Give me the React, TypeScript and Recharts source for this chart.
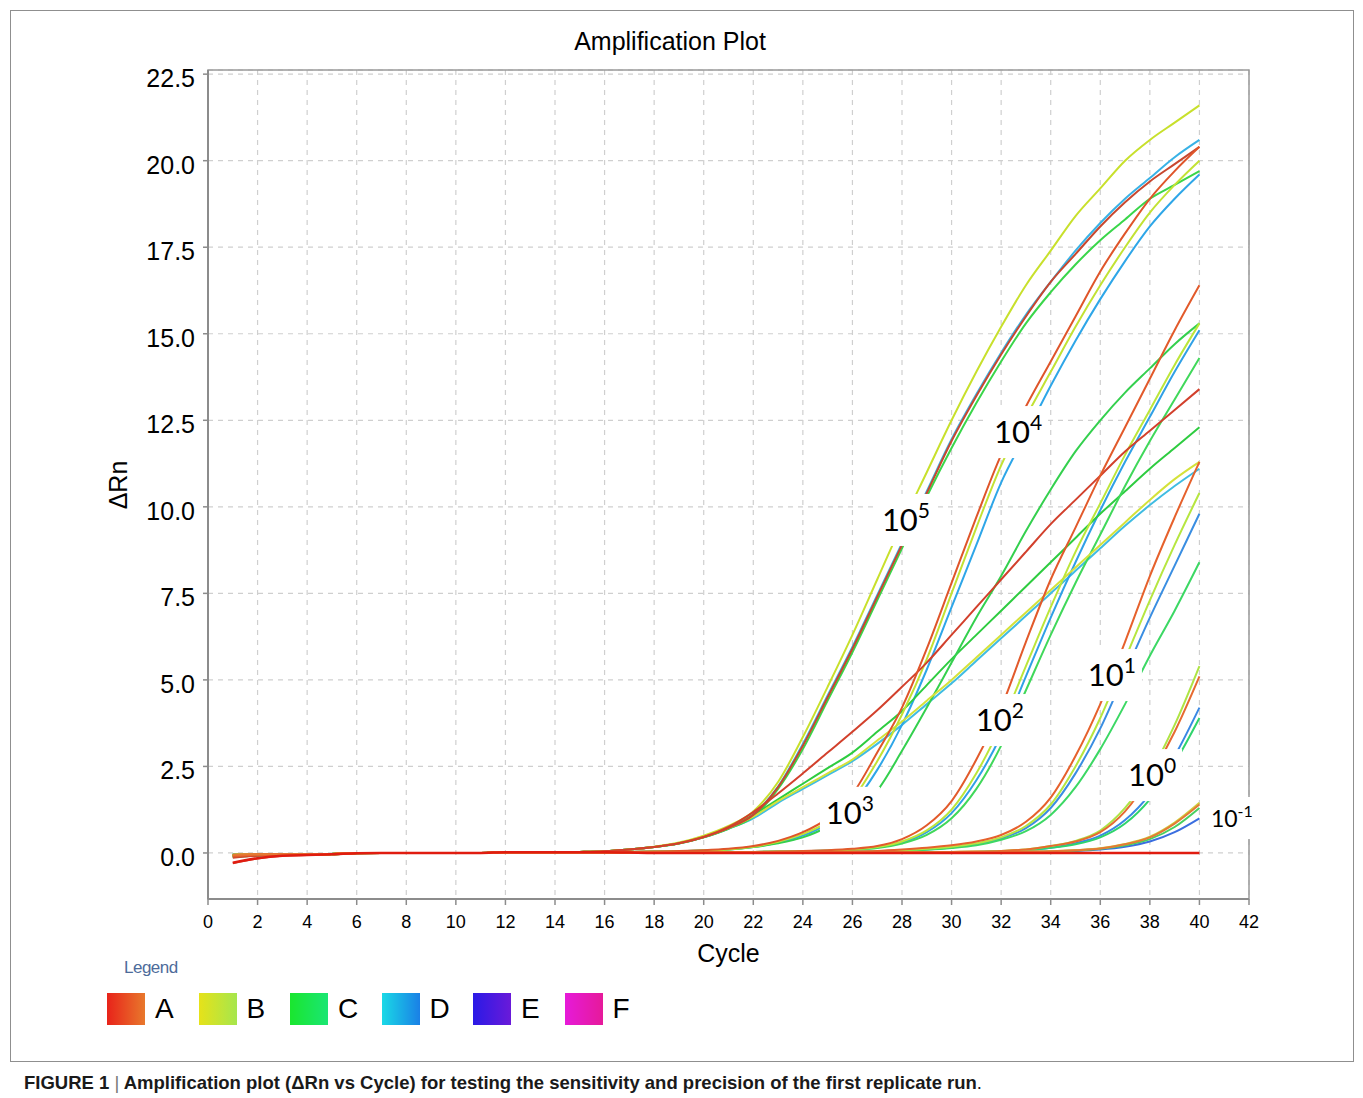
import { LineChart, Line, XAxis, YAxis, CartesianGrid, ReferenceArea, ReferenceDot } from "recharts";

// cycle numbers 1..40
const cycles = [
  1, 2, 3, 4, 5, 6, 7, 8, 9, 10, 11, 12, 13, 14, 15, 16, 17, 18, 19, 20,
  21, 22, 23, 24, 25, 26, 27, 28, 29, 30, 31, 32, 33, 34, 35, 36, 37, 38, 39, 40,
];

const xTicks = [0, 2, 4, 6, 8, 10, 12, 14, 16, 18, 20, 22, 24, 26, 28, 30, 32, 34, 36, 38, 40, 42];
const yTicks = [0, 2.5, 5, 7.5, 10, 12.5, 15, 17.5, 20, 22.5];

// 10^5 group
const a5 = [
  -0.14, -0.08, -0.05, -0.05, -0.04, -0.01, 0, 0, 0, 0,
  0, 0.02, 0.02, 0.02, 0.03, 0.05, 0.1, 0.17, 0.28, 0.46,
  0.72, 1.1, 1.9, 3.1, 4.5, 5.9, 7.4, 8.9, 10.4, 11.9,
  13.2, 14.4, 15.5, 16.5, 17.3, 18.1, 18.8, 19.4, 19.9, 20.4,
];
const b5 = [
  -0.08, -0.06, -0.05, -0.05, -0.04, -0.01, 0, 0, 0, 0,
  0, 0.02, 0.02, 0.02, 0.03, 0.05, 0.1, 0.18, 0.3, 0.5,
  0.78, 1.2, 2.05, 3.35, 4.8, 6.3, 7.9, 9.5, 11.0, 12.5,
  13.9, 15.2, 16.4, 17.4, 18.4, 19.2, 20.0, 20.6, 21.1, 21.6,
];
const c5 = [
  -0.1, -0.07, -0.05, -0.05, -0.04, -0.01, 0, 0, 0, 0,
  0, 0.02, 0.02, 0.02, 0.03, 0.05, 0.1, 0.17, 0.27, 0.45,
  0.7, 1.05, 1.85, 3.0, 4.4, 5.8, 7.3, 8.8, 10.3, 11.7,
  13.0, 14.2, 15.3, 16.2, 17.0, 17.7, 18.3, 18.9, 19.3, 19.7,
];
const d5 = [
  -0.1, -0.07, -0.05, -0.05, -0.04, -0.01, 0, 0, 0, 0,
  0, 0.02, 0.02, 0.02, 0.03, 0.05, 0.1, 0.17, 0.28, 0.46,
  0.72, 1.12, 1.92, 3.15, 4.55, 5.95, 7.45, 8.95, 10.45, 11.95,
  13.25, 14.45, 15.55, 16.5, 17.4, 18.2, 18.9, 19.5, 20.1, 20.6,
];

// shallow replicates that leave the baseline with the 10^5 group
const aS = [
  -0.3, -0.16, -0.08, -0.06, -0.04, -0.01, 0, 0, 0, 0,
  0, 0.02, 0.02, 0.02, 0.03, 0.05, 0.1, 0.17, 0.28, 0.46,
  0.75, 1.18, 1.72, 2.3, 2.9, 3.5, 4.12, 4.8, 5.5, 6.3,
  7.1, 7.9, 8.7, 9.5, 10.2, 10.9, 11.6, 12.2, 12.8, 13.4,
];
const bS = [
  -0.1, -0.06, -0.05, -0.05, -0.04, -0.01, 0, 0, 0, 0,
  0, 0.02, 0.02, 0.02, 0.03, 0.05, 0.1, 0.17, 0.28, 0.46,
  0.72, 1.05, 1.5, 1.9, 2.3, 2.7, 3.25, 3.8, 4.4, 5.0,
  5.65, 6.3, 6.95, 7.6, 8.25, 8.9, 9.55, 10.2, 10.8, 11.3,
];
const cS = [
  -0.12, -0.07, -0.05, -0.05, -0.04, -0.01, 0, 0, 0, 0,
  0, 0.02, 0.02, 0.02, 0.03, 0.05, 0.1, 0.17, 0.28, 0.46,
  0.72, 1.1, 1.55, 2.0, 2.45, 2.9, 3.5, 4.1, 4.85, 5.6,
  6.3, 7.0, 7.7, 8.4, 9.1, 9.8, 10.45, 11.1, 11.7, 12.3,
];
const dS = [
  -0.08, -0.05, -0.04, -0.04, -0.03, 0, 0, 0, 0, 0,
  0, 0.02, 0.02, 0.02, 0.03, 0.05, 0.1, 0.17, 0.27, 0.45,
  0.7, 1.0, 1.45, 1.85, 2.25, 2.65, 3.15, 3.7, 4.3, 4.9,
  5.55, 6.2, 6.85, 7.5, 8.15, 8.8, 9.45, 10.05, 10.6, 11.1,
];

// 10^4 / 10^3 group
const a4 = [
  -0.1, -0.06, -0.04, -0.04, -0.03, 0, 0, 0, 0, 0,
  0, 0.01, 0.01, 0.01, 0.01, 0.02, 0.03, 0.04, 0.06, 0.08,
  0.12, 0.2, 0.35, 0.6, 1.0, 1.7, 2.9, 4.2, 5.9, 7.8,
  9.7, 11.5, 12.9, 14.2, 15.5, 16.8, 17.9, 18.9, 19.7, 20.4,
];
const b4 = [
  -0.07, -0.05, -0.04, -0.04, -0.03, 0, 0, 0, 0, 0,
  0, 0.01, 0.01, 0.01, 0.01, 0.02, 0.03, 0.04, 0.05, 0.07,
  0.1, 0.18, 0.32, 0.55, 0.9, 1.55, 2.65, 4.0, 5.6, 7.5,
  9.4, 11.2, 12.6, 13.9, 15.2, 16.4, 17.5, 18.5, 19.3, 20.0,
];
const c4 = [
  -0.09, -0.06, -0.04, -0.04, -0.03, 0, 0, 0, 0, 0,
  0, 0.01, 0.01, 0.01, 0.01, 0.02, 0.03, 0.04, 0.05, 0.07,
  0.1, 0.17, 0.28, 0.45, 0.75, 1.15, 1.8, 2.95, 4.2, 5.5,
  6.8, 8.0, 9.3, 10.5, 11.6, 12.5, 13.3, 14.0, 14.7, 15.3,
];
const d4 = [
  -0.06, -0.04, -0.04, -0.04, -0.03, 0, 0, 0, 0, 0,
  0, 0.01, 0.01, 0.01, 0.01, 0.02, 0.03, 0.04, 0.05, 0.07,
  0.1, 0.17, 0.3, 0.5, 0.85, 1.4, 2.4, 3.7, 5.3, 7.1,
  8.9, 10.7, 12.1, 13.5, 14.8, 16.0, 17.1, 18.1, 18.9, 19.6,
];

// 10^2 group
const a2 = [
  -0.08, -0.05, -0.04, -0.04, -0.03, 0, 0, 0, 0, 0,
  0, 0.01, 0.01, 0.01, 0.01, 0.01, 0.01, 0.01, 0.01, 0.01,
  0.02, 0.03, 0.04, 0.06, 0.08, 0.12, 0.2, 0.4, 0.8, 1.5,
  2.7, 4.2, 6.1, 7.9, 9.4, 10.9, 12.3, 13.7, 15.1, 16.4,
];
const b2 = [
  -0.06, -0.04, -0.04, -0.04, -0.03, 0, 0, 0, 0, 0,
  0, 0.01, 0.01, 0.01, 0.01, 0.01, 0.01, 0.01, 0.01, 0.01,
  0.02, 0.03, 0.04, 0.05, 0.07, 0.1, 0.17, 0.33, 0.65, 1.25,
  2.3, 3.7, 5.4, 7.1, 8.7, 10.1, 11.5, 12.8, 14.1, 15.3,
];
const c2 = [
  -0.07, -0.05, -0.04, -0.04, -0.03, 0, 0, 0, 0, 0,
  0, 0.01, 0.01, 0.01, 0.01, 0.01, 0.01, 0.01, 0.01, 0.01,
  0.02, 0.03, 0.04, 0.05, 0.06, 0.09, 0.14, 0.27, 0.52, 1.0,
  1.85, 3.1, 4.7, 6.3, 7.8, 9.2, 10.6, 11.9, 13.1, 14.3,
];
const d2 = [
  -0.05, -0.04, -0.04, -0.04, -0.03, 0, 0, 0, 0, 0,
  0, 0.01, 0.01, 0.01, 0.01, 0.01, 0.01, 0.01, 0.01, 0.01,
  0.02, 0.03, 0.04, 0.05, 0.07, 0.1, 0.16, 0.3, 0.6, 1.15,
  2.1, 3.4, 5.1, 6.8, 8.4, 9.9, 11.3, 12.6, 13.9, 15.1,
];

// 10^1 group
const a1 = [
  -0.07, -0.05, -0.04, -0.04, -0.03, 0, 0, 0, 0, 0,
  0, 0.01, 0.01, 0.01, 0.01, 0.01, 0.01, 0.01, 0.01, 0.01,
  0.01, 0.01, 0.02, 0.02, 0.03, 0.04, 0.06, 0.1, 0.15, 0.22,
  0.33, 0.52, 0.9, 1.6, 2.8, 4.3, 6.1, 8.0, 9.7, 11.3,
];
const b1 = [
  -0.06, -0.04, -0.04, -0.04, -0.03, 0, 0, 0, 0, 0,
  0, 0.01, 0.01, 0.01, 0.01, 0.01, 0.01, 0.01, 0.01, 0.01,
  0.01, 0.01, 0.02, 0.02, 0.03, 0.04, 0.05, 0.08, 0.12, 0.18,
  0.28, 0.45, 0.78, 1.4, 2.5, 3.9, 5.6, 7.3, 8.9, 10.4,
];
const c1 = [
  -0.06, -0.04, -0.04, -0.04, -0.03, 0, 0, 0, 0, 0,
  0, 0.01, 0.01, 0.01, 0.01, 0.01, 0.01, 0.01, 0.01, 0.01,
  0.01, 0.01, 0.01, 0.02, 0.02, 0.03, 0.04, 0.06, 0.09, 0.14,
  0.22, 0.38, 0.63, 1.1, 1.9, 3.0, 4.3, 5.7, 7.0, 8.4,
];
const d1 = [
  -0.05, -0.04, -0.04, -0.04, -0.03, 0, 0, 0, 0, 0,
  0, 0.01, 0.01, 0.01, 0.01, 0.01, 0.01, 0.01, 0.01, 0.01,
  0.01, 0.01, 0.01, 0.02, 0.03, 0.04, 0.05, 0.07, 0.1, 0.16,
  0.25, 0.42, 0.72, 1.3, 2.3, 3.6, 5.2, 6.8, 8.3, 9.8,
];

// 10^0 group
const a0 = [
  -0.06, -0.04, -0.04, -0.04, -0.03, 0, 0, 0, 0, 0,
  0, 0.01, 0.01, 0.01, 0.01, 0.01, 0.01, 0.01, 0.01, 0.01,
  0.01, 0.01, 0.01, 0.01, 0.01, 0.01, 0.02, 0.02, 0.02, 0.03,
  0.04, 0.06, 0.1, 0.2, 0.33, 0.6, 1.2, 2.2, 3.5, 5.1,
];
const b0 = [
  -0.05, -0.04, -0.04, -0.04, -0.03, 0, 0, 0, 0, 0,
  0, 0.01, 0.01, 0.01, 0.01, 0.01, 0.01, 0.01, 0.01, 0.01,
  0.01, 0.01, 0.01, 0.01, 0.01, 0.01, 0.02, 0.02, 0.02, 0.03,
  0.04, 0.06, 0.1, 0.2, 0.35, 0.65, 1.3, 2.3, 3.7, 5.4,
];
const c0 = [
  -0.05, -0.04, -0.04, -0.04, -0.03, 0, 0, 0, 0, 0,
  0, 0.01, 0.01, 0.01, 0.01, 0.01, 0.01, 0.01, 0.01, 0.01,
  0.01, 0.01, 0.01, 0.01, 0.01, 0.01, 0.01, 0.02, 0.02, 0.02,
  0.03, 0.05, 0.08, 0.15, 0.25, 0.45, 0.85, 1.55, 2.6, 3.9,
];
const d0 = [
  -0.05, -0.04, -0.04, -0.04, -0.03, 0, 0, 0, 0, 0,
  0, 0.01, 0.01, 0.01, 0.01, 0.01, 0.01, 0.01, 0.01, 0.01,
  0.01, 0.01, 0.01, 0.01, 0.01, 0.01, 0.01, 0.02, 0.02, 0.02,
  0.03, 0.05, 0.08, 0.15, 0.28, 0.5, 0.95, 1.7, 2.8, 4.2,
];

// 10^-1 group
const aM = [
  -0.05, -0.04, -0.04, -0.04, -0.03, 0, 0, 0, 0, 0,
  0, 0.01, 0.01, 0.01, 0.01, 0.01, 0.01, 0.01, 0.01, 0.01,
  0.01, 0.01, 0.01, 0.01, 0.01, 0.01, 0.01, 0.01, 0.01, 0.01,
  0.02, 0.03, 0.04, 0.05, 0.08, 0.13, 0.25, 0.45, 0.85, 1.4,
];
const bM = [
  -0.05, -0.04, -0.04, -0.04, -0.03, 0, 0, 0, 0, 0,
  0, 0.01, 0.01, 0.01, 0.01, 0.01, 0.01, 0.01, 0.01, 0.01,
  0.01, 0.01, 0.01, 0.01, 0.01, 0.01, 0.01, 0.01, 0.01, 0.01,
  0.02, 0.03, 0.04, 0.05, 0.08, 0.14, 0.26, 0.47, 0.88, 1.45,
];
const cM = [
  -0.05, -0.04, -0.04, -0.04, -0.03, 0, 0, 0, 0, 0,
  0, 0.01, 0.01, 0.01, 0.01, 0.01, 0.01, 0.01, 0.01, 0.01,
  0.01, 0.01, 0.01, 0.01, 0.01, 0.01, 0.01, 0.01, 0.01, 0.01,
  0.02, 0.02, 0.03, 0.04, 0.07, 0.12, 0.22, 0.4, 0.75, 1.3,
];
const dM = [
  -0.05, -0.04, -0.04, -0.04, -0.03, 0, 0, 0, 0, 0,
  0, 0.01, 0.01, 0.01, 0.01, 0.01, 0.01, 0.01, 0.01, 0.01,
  0.01, 0.01, 0.01, 0.01, 0.01, 0.01, 0.01, 0.01, 0.01, 0.01,
  0.01, 0.02, 0.03, 0.04, 0.06, 0.1, 0.18, 0.33, 0.6, 1.0,
];

// no-template wells, flat
const ntc = [
  -0.28, -0.15, -0.08, -0.06, -0.04, -0.01, 0, 0, 0, 0,
  0, 0.02, 0.02, 0.02, 0.02, 0.02, 0.01, 0, 0, 0,
  0, 0, 0, 0, 0, 0, 0, 0, 0, 0,
  0, 0, 0, 0, 0, 0, 0, 0, 0, 0,
];

// drawing order: D, C, B, A, then the flat line on top
const series = [
  { key: "d5", values: d5, color: "#38b2e6" },
  { key: "dS", values: dS, color: "#40bce2" },
  { key: "d4", values: d4, color: "#2ea6e8" },
  { key: "d2", values: d2, color: "#30a0e6" },
  { key: "d1", values: d1, color: "#3a8ee2" },
  { key: "d0", values: d0, color: "#3a88e4" },
  { key: "dM", values: dM, color: "#3a6ee0" },
  { key: "c5", values: c5, color: "#3ad64a" },
  { key: "cS", values: cS, color: "#2ecc40" },
  { key: "c4", values: c4, color: "#34d04e" },
  { key: "c2", values: c2, color: "#40d85a" },
  { key: "c1", values: c1, color: "#3cd864" },
  { key: "c0", values: c0, color: "#2fd46c" },
  { key: "cM", values: cM, color: "#48d060" },
  { key: "b5", values: b5, color: "#c8e02c" },
  { key: "bS", values: bS, color: "#d4e23a" },
  { key: "b4", values: b4, color: "#c2e234" },
  { key: "b2", values: b2, color: "#bce63a" },
  { key: "b1", values: b1, color: "#b6e640" },
  { key: "b0", values: b0, color: "#aee444" },
  { key: "bM", values: bM, color: "#d0d040" },
  { key: "a5", values: a5, color: "#c8472f" },
  { key: "aS", values: aS, color: "#d2402c" },
  { key: "a4", values: a4, color: "#df552a" },
  { key: "a2", values: a2, color: "#e25a2b" },
  { key: "a1", values: a1, color: "#e6612c" },
  { key: "a0", values: a0, color: "#e66a30" },
  { key: "aM", values: aM, color: "#e47a35" },
  { key: "ntc", values: ntc, color: "#e01c10" },
];

const rows = cycles.map((cycle, i) => {
  const row: Record<string, number> = { cycle };
  series.forEach((s) => {
    row[s.key] = s.values[i];
  });
  return row;
});

// copy-number labels pasted on the plot (anchor = box centre, data units)
const annotations = [
  { cycle: 28.16, value: 9.62, base: "10", exp: "5", small: false },
  { cycle: 32.68, value: 12.16, base: "10", exp: "4", small: false },
  { cycle: 25.9, value: 1.16, base: "10", exp: "3", small: false },
  { cycle: 31.95, value: 3.84, base: "10", exp: "2", small: false },
  { cycle: 36.47, value: 5.14, base: "10", exp: "1", small: false },
  { cycle: 38.09, value: 2.25, base: "10", exp: "0", small: false },
  { cycle: 41.31, value: 1.01, base: "10", exp: "-1", small: true },
];

const legendItems = [
  { name: "A", from: "#e8231a", to: "#e8782c" },
  { name: "B", from: "#e6e219", to: "#a6e64d" },
  { name: "C", from: "#1ae62e", to: "#1ae673" },
  { name: "D", from: "#1ad9e6", to: "#1a80e6" },
  { name: "E", from: "#2a1ae6", to: "#6a1ad9" },
  { name: "F", from: "#e61ad9", to: "#e61a9a" },
];

const sans = "'Liberation Sans', Arial, sans-serif";

function AnnotationBox(props: any) {
  const { cx, cy, base, exp, small } = props;
  const w = small ? 52 : 60;
  const h = small ? 42 : 52;
  const fs = small ? 23 : 31;
  const efs = small ? 16 : 21;
  return (
    <g>
      <rect x={cx - w / 2} y={cy - h / 2} width={w} height={h} fill="#ffffff" />
      <text
        x={cx}
        y={cy + (small ? 9 : 11)}
        textAnchor="middle"
        fontFamily="Lato, 'Open Sans', sans-serif"
        fontSize={fs}
        fill="#000"
      >
        {base}
        <tspan dy={small ? -10 : -13} fontSize={efs}>
          {exp}
        </tspan>
      </text>
    </g>
  );
}

function YTick(props: any) {
  const { x, y, payload } = props;
  return (
    <text x={x} y={y} dy={13} textAnchor="end" fontFamily={sans} fontSize={25} fill="#000">
      {Number(payload.value).toFixed(1)}
    </text>
  );
}

export default function App() {
  return (
    <div style={{ position: "absolute", left: 0, top: 0, width: 1363, height: 1098, background: "#fff" }}>
      <div
        style={{
          position: "absolute",
          left: 10,
          top: 10,
          width: 1344,
          height: 1052,
          border: "1px solid #8f8f8f",
          boxSizing: "border-box",
        }}
      />
      <div
        style={{
          position: "absolute",
          left: 470,
          top: 27,
          width: 400,
          textAlign: "center",
          fontFamily: sans,
          fontSize: 25,
          color: "#000",
        }}
      >
        Amplification Plot
      </div>
      <div
        style={{
          position: "absolute",
          left: 118,
          top: 485,
          transform: "translate(-50%, -50%) rotate(-90deg)",
          fontFamily: sans,
          fontSize: 25,
          color: "#000",
          whiteSpace: "nowrap",
        }}
      >
        ΔRn
      </div>

      <div style={{ position: "absolute", left: 0, top: 0 }}>
        <LineChart width={1260} height={1000} data={rows} margin={{ top: 70, right: 11, bottom: 31, left: 98 }}>
          <CartesianGrid stroke="#cfcfcf" strokeDasharray="5 5" strokeWidth={1.2} />
          <XAxis
            dataKey="cycle"
            type="number"
            domain={[0, 42]}
            ticks={xTicks}
            allowDataOverflow
            height={70}
            tickSize={6}
            tickMargin={10}
            tick={{ fontSize: 18, fill: "#000", fontFamily: sans }}
            axisLine={{ stroke: "#8c8c8c", strokeWidth: 2 }}
            tickLine={{ stroke: "#8c8c8c", strokeWidth: 1.5 }}
            label={{ value: "Cycle", position: "insideBottom", offset: 7, fontSize: 25, fill: "#000", fontFamily: sans }}
          />
          <YAxis
            type="number"
            domain={[-1.33, 22.62]}
            ticks={yTicks}
            allowDataOverflow
            width={110}
            tickSize={5}
            tickMargin={8}
            tick={<YTick />}
            axisLine={{ stroke: "#8c8c8c", strokeWidth: 2 }}
            tickLine={{ stroke: "#8c8c8c", strokeWidth: 1.5 }}
          />
          <ReferenceArea x1={0} x2={42} y1={-1.33} y2={22.62} fill="none" stroke="#9a9a9a" strokeWidth={1.5} />
          {series.map((s) => (
            <Line
              key={s.key}
              dataKey={s.key}
              type="monotone"
              stroke={s.color}
              strokeWidth={s.key === "ntc" ? 2.5 : 2}
              dot={false}
              activeDot={false}
              isAnimationActive={false}
            />
          ))}
          {annotations.map((a) => (
            <ReferenceDot
              key={a.exp}
              x={a.cycle}
              y={a.value}
              r={1}
              ifOverflow="visible"
              shape={(p: any) => <AnnotationBox cx={p.cx} cy={p.cy} base={a.base} exp={a.exp} small={a.small} />}
            />
          ))}
        </LineChart>
      </div>

      <div
        style={{
          position: "absolute",
          left: 124,
          top: 958,
          fontFamily: sans,
          fontSize: 17,
          color: "#4d6b9a",
          letterSpacing: -0.5,
        }}
      >
        Legend
      </div>
      {legendItems.map((item, i) => (
        <div
          key={item.name}
          style={{ position: "absolute", left: 107 + i * 91.5, top: 993, display: "flex", alignItems: "center" }}
        >
          <div
            style={{
              width: 38,
              height: 32,
              background: `linear-gradient(to right, ${item.from}, ${item.to})`,
            }}
          />
          <span style={{ marginLeft: 10, fontFamily: sans, fontSize: 28, color: "#000" }}>{item.name}</span>
        </div>
      ))}

      <div
        style={{
          position: "absolute",
          left: 24,
          top: 1072,
          fontFamily: sans,
          fontSize: 18.5,
          fontWeight: "bold",
          color: "#1a1a1a",
          whiteSpace: "nowrap",
        }}
      >
        FIGURE 1 <span style={{ fontWeight: "normal", color: "#777" }}>|</span> Amplification plot (ΔRn vs Cycle) for
        testing the sensitivity and precision of the first replicate run<span style={{ fontWeight: "normal" }}>.</span>
      </div>
    </div>
  );
}
